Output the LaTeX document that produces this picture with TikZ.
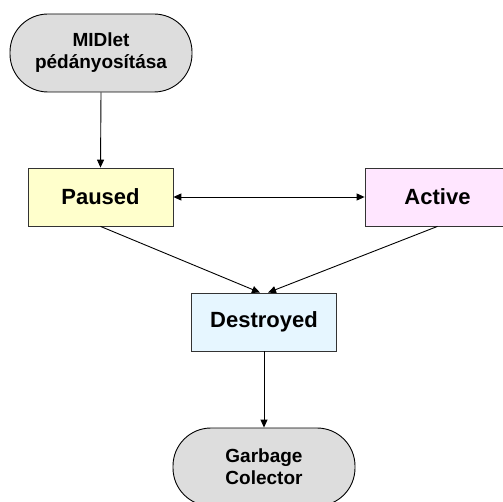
\documentclass[tikz,border=0pt]{standalone}
\usepackage{fontspec}
\setmainfont{Liberation Sans}
\usetikzlibrary{arrows.meta}
\definecolor{grayfill}{HTML}{DDDDDD}
\definecolor{yellowfill}{HTML}{FFFFCC}
\definecolor{pinkfill}{HTML}{FFE6FF}
\definecolor{bluefill}{HTML}{E6F6FF}
\tikzset{
  stadium/.style={draw=black, line width=0.9pt, fill=grayfill, rounded corners=38pt,
    minimum width=182pt, minimum height=78pt, align=center, inner sep=0pt,
    font=\fontsize{19}{22}\selectfont\bfseries},
  statebox/.style={draw=black!80, line width=0.8pt, minimum width=145pt, minimum height=58pt,
    inner sep=0pt, font=\fontsize{22}{26}\selectfont\bfseries},
  conn/.style={line width=0.9pt, -{Triangle[length=8pt,width=7pt]}},
  dconn/.style={line width=0.9pt, {Triangle[length=8pt,width=7pt]}-{Triangle[length=8pt,width=7pt]}}
}
\begin{document}
\begin{tikzpicture}[x=1pt,y=-1pt]
\useasboundingbox (0,0) rectangle (503,502);
\clip (0,0) rectangle (503,502);
\node[stadium] (midlet) at (101,53) {MIDlet\\pédányosítása};
\node[statebox, fill=yellowfill] (paused) at (100.5,197) {Paused};
\node[statebox, fill=pinkfill] (active) at (437.5,197) {Active};
\node[statebox, fill=bluefill] (destroyed) at (264,322) {Destroyed};
\node[stadium] (gc) at (264,467) {Garbage\\Colector};
\draw[conn] (midlet.south) -- (paused.north);
\draw[dconn] (paused.east) -- (active.west);
\draw[conn] (paused.south) -- ([xshift=-4pt]destroyed.north);
\draw[conn] (active.south) -- ([xshift=4pt]destroyed.north);
\draw[conn] (destroyed.south) -- (gc.north);
\end{tikzpicture}
\end{document}
